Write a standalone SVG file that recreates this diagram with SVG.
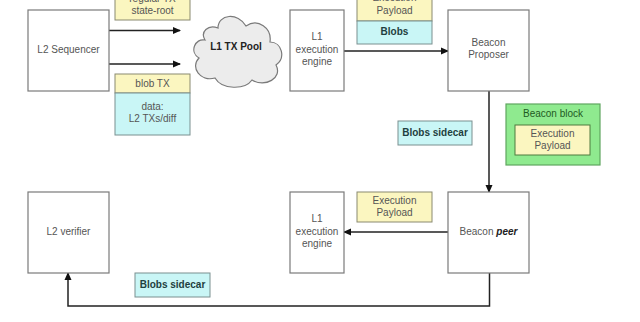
<svg xmlns="http://www.w3.org/2000/svg" width="640" height="322" viewBox="0 0 640 322">
<style>
.box{fill:#ffffff;stroke:#7a7a7a;stroke-width:1.2}
.yel{fill:#fbf6c0;stroke:#8a8a70;stroke-width:1}
.cyan{fill:#c9f6f6;stroke:#7a9090;stroke-width:1}
.t{font-family:"Liberation Sans",Arial,sans-serif;font-size:10px;fill:#555;text-anchor:middle}
.b{font-weight:bold;fill:#1f3f40}
.ln{fill:none;stroke:#222;stroke-width:1.5}
</style>
<defs>
<marker id="ah" markerWidth="8" markerHeight="8" refX="7" refY="4" orient="auto" markerUnits="userSpaceOnUse">
<path d="M0,0.5 L8,4 L0,7.5 Z" fill="#111"/>
</marker>
</defs>
<rect width="640" height="322" fill="#ffffff"/>

<g id="connectors">
<line class="ln" x1="109" y1="30.5" x2="180" y2="30.5" marker-end="url(#ah)"/>
<line class="ln" x1="109" y1="64" x2="180" y2="64" marker-end="url(#ah)"/>
<line class="ln" x1="344" y1="51" x2="448" y2="51" marker-end="url(#ah)"/>
<line class="ln" x1="489" y1="91" x2="489" y2="192" marker-end="url(#ah)"/>
<line class="ln" x1="448" y1="232" x2="344" y2="232" marker-end="url(#ah)"/>
<polyline class="ln" points="489.5,273 489.5,306 68,306 68,273" marker-end="url(#ah)"/>
</g>

<g id="l2-sequencer">
<rect class="box" x="28" y="10" width="81" height="81"/>
<text class="t" x="68.5" y="53">L2 Sequencer</text>
</g>

<g id="regular-tx">
<rect class="yel" x="115" y="-12" width="75" height="32"/>
<text class="t" x="152.5" y="2">regular TX</text>
<text class="t" x="152.5" y="13.5">state-root</text>
</g>

<g id="blob-tx">
<rect class="yel" x="115" y="74" width="75" height="19"/>
<rect class="cyan" x="115" y="93" width="75" height="42"/>
<text class="t" x="152.5" y="87">blob TX</text>
<text class="t" x="152.5" y="110">data:</text>
<text class="t" x="152.5" y="122">L2 TXs/diff</text>
</g>

<g id="l1-tx-pool">
<path d="M205,40 C195,38 189,52 199,58 C190,67 200,82 215,78 C222,90 245,90 252,80 C265,88 283,78 276,65 C286,58 282,42 270,42 C272,28 258,18 246,26 C238,12 218,14 218,28 C208,24 200,32 205,40 Z" fill="#ececec" stroke="#7a7a7a" stroke-width="1.2"/>
<text class="t b" x="236" y="50" style="fill:#222">L1 TX Pool</text>
</g>

<g id="l1-engine-top">
<rect class="box" x="290" y="10" width="54" height="81"/>
<text class="t" x="317" y="40">L1</text>
<text class="t" x="317" y="53">execution</text>
<text class="t" x="317" y="65">engine</text>
</g>

<g id="payload-blobs-top">
<rect class="yel" x="357" y="-12" width="75" height="33"/>
<rect class="cyan" x="357" y="21" width="75" height="23"/>
<text class="t" x="394.5" y="1">Execution</text>
<text class="t" x="394.5" y="13.5">Payload</text>
<text class="t b" x="394.5" y="35">Blobs</text>
</g>

<g id="beacon-proposer">
<rect class="box" x="448" y="10" width="81" height="81"/>
<text class="t" x="488.5" y="46">Beacon</text>
<text class="t" x="488.5" y="58">Proposer</text>
</g>

<g id="blobs-sidecar-top">
<rect class="cyan" x="398" y="121" width="74" height="24"/>
<text class="t b" x="435" y="136">Blobs sidecar</text>
</g>

<g id="beacon-block">
<rect x="506" y="104" width="94" height="61" fill="#8fea8f" stroke="#5fa65f" stroke-width="1.2"/>
<text class="t" x="553" y="117" style="fill:#1f5a1f">Beacon block</text>
<rect class="yel" x="515" y="125" width="75" height="30" style="stroke:#4f7a3f"/>
<text class="t" x="552.5" y="137">Execution</text>
<text class="t" x="552.5" y="149">Payload</text>
</g>

<g id="l2-verifier">
<rect class="box" x="28" y="192" width="81" height="81"/>
<text class="t" x="68.5" y="235">L2 verifier</text>
</g>

<g id="blobs-sidecar-bottom">
<rect class="cyan" x="135" y="273" width="75" height="24"/>
<text class="t b" x="172.5" y="288">Blobs sidecar</text>
</g>

<g id="l1-engine-bottom">
<rect class="box" x="290" y="192" width="54" height="81"/>
<text class="t" x="317" y="222">L1</text>
<text class="t" x="317" y="235">execution</text>
<text class="t" x="317" y="247">engine</text>
</g>

<g id="payload-bottom">
<rect class="yel" x="357" y="192" width="75" height="30"/>
<text class="t" x="394.5" y="204">Execution</text>
<text class="t" x="394.5" y="216">Payload</text>
</g>

<g id="beacon-peer">
<rect class="box" x="448" y="192" width="81" height="81"/>
<text class="t" x="488.5" y="235">Beacon <tspan font-weight="bold" font-style="italic" fill="#222">peer</tspan></text>
</g>
</svg>
